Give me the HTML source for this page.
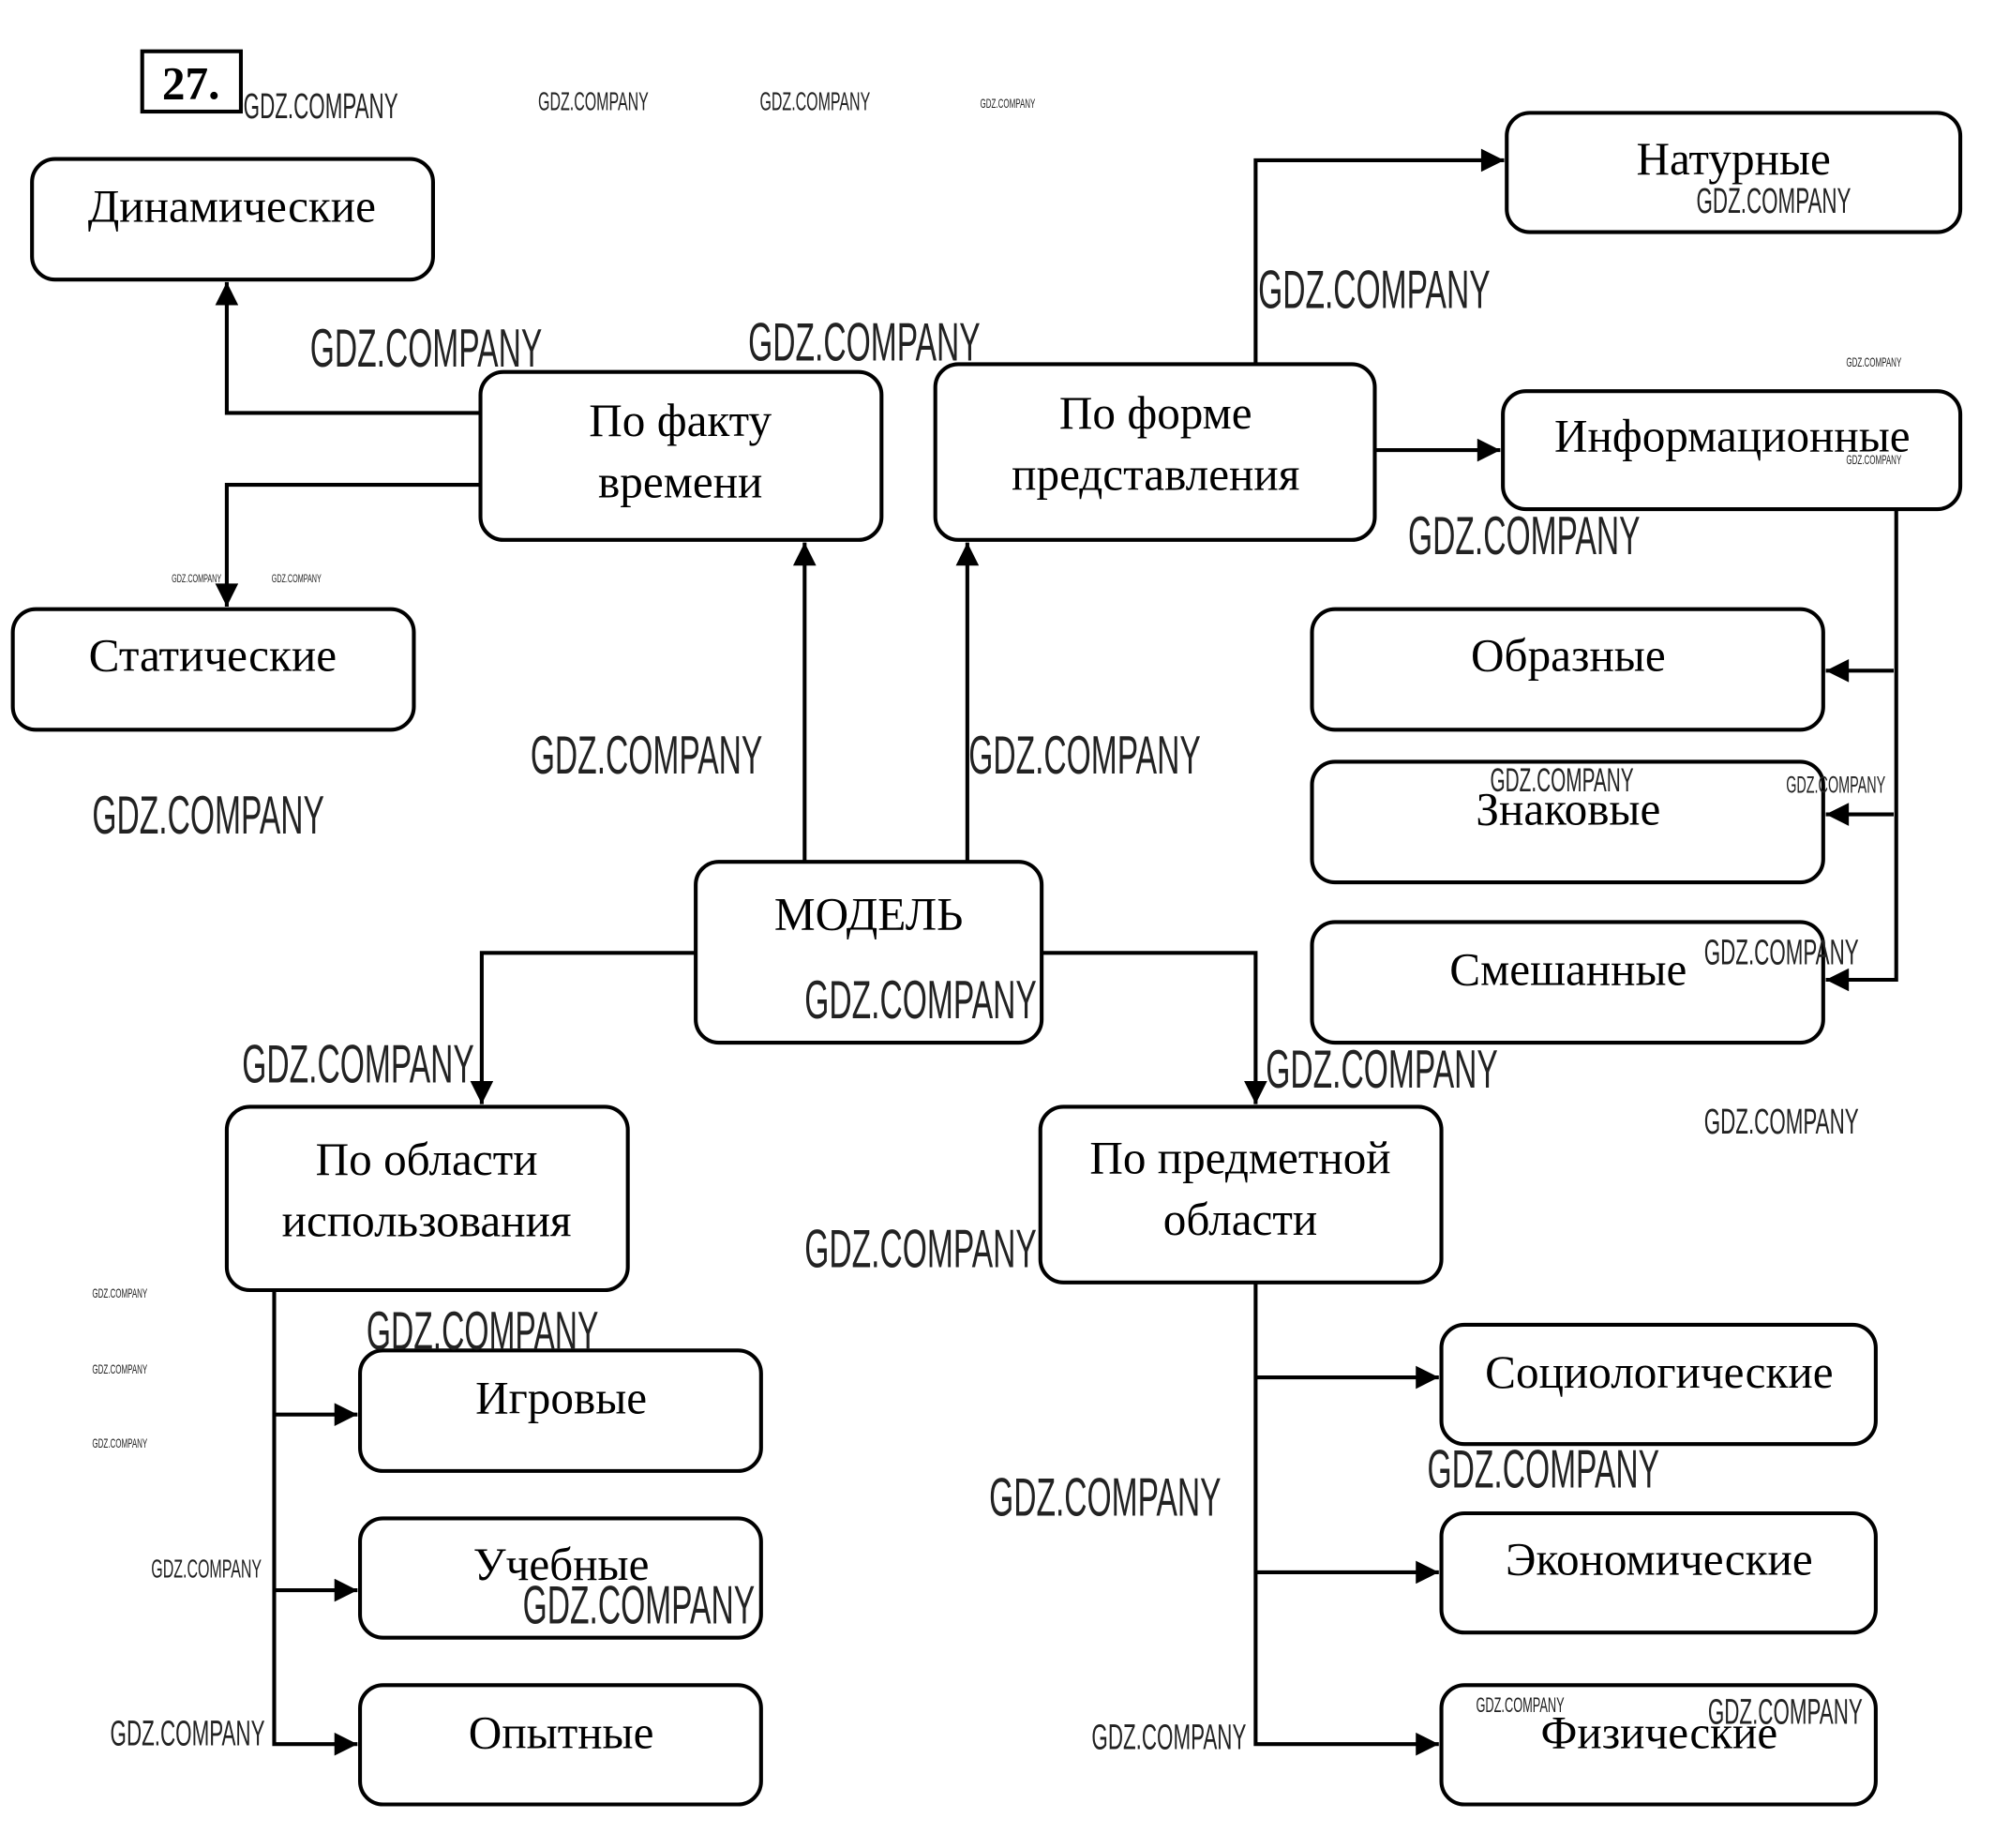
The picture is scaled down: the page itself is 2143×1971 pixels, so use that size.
<!DOCTYPE html>
<html><head><meta charset="utf-8"><style>
html,body{margin:0;padding:0;background:#fff;}
svg{display:block;}
.b{fill:#fff;stroke:#000;stroke-width:3;}
.t{font-family:"Liberation Serif","DejaVu Serif",serif;font-size:36px;fill:#000;text-anchor:middle;}
.l{stroke:#000;stroke-width:3;fill:none;}
.w{font-family:"Liberation Sans","DejaVu Sans",sans-serif;fill:#222;}
</style></head><body>
<svg width="2143" height="1971" viewBox="0 0 1568 1441" preserveAspectRatio="none" xmlns="http://www.w3.org/2000/svg">
<defs>
<marker id="A" viewBox="0 0 10 10" markerWidth="20" markerHeight="18" refX="10" refY="5" orient="auto" markerUnits="userSpaceOnUse"><path d="M0,0 L10,5 L0,10 z" fill="#000"/></marker></defs>

<path class="l" d="M375,322 H177 V220" marker-end="url(#A)"/>
<path class="l" d="M375,378 H177 V473" marker-end="url(#A)"/>
<path class="l" d="M628,672 V423" marker-end="url(#A)"/>
<path class="l" d="M755,672 V423" marker-end="url(#A)"/>
<path class="l" d="M980,284 V125 H1174" marker-end="url(#A)"/>
<path class="l" d="M1073,351 H1171" marker-end="url(#A)"/>
<path class="l" d="M1480,397 V764 H1425" marker-end="url(#A)"/>
<path class="l" d="M1478,523 H1425" marker-end="url(#A)"/>
<path class="l" d="M1478,635 H1425" marker-end="url(#A)"/>
<path class="l" d="M543,743 H376 V861" marker-end="url(#A)"/>
<path class="l" d="M813,743 H980 V861" marker-end="url(#A)"/>
<path class="l" d="M214,1006 V1360 H279" marker-end="url(#A)"/>
<path class="l" d="M214,1103 H279" marker-end="url(#A)"/>
<path class="l" d="M214,1240 H279" marker-end="url(#A)"/>
<path class="l" d="M980,1000 V1360 H1123" marker-end="url(#A)"/>
<path class="l" d="M980,1074 H1123" marker-end="url(#A)"/>
<path class="l" d="M980,1226 H1123" marker-end="url(#A)"/>

<rect x="111" y="40" width="77" height="47" fill="#fff" stroke="#000" stroke-width="3"/>
<text x="149" y="77" style="font-family:'Liberation Serif',serif;font-weight:bold;font-size:36px;text-anchor:middle">27.</text>

<rect class="b" x="25" y="124" width="313" height="94" rx="18"/>
<text class="t" x="181" y="173">Динамические</text>
<rect class="b" x="375" y="290" width="313" height="131" rx="18"/>
<text class="t" x="531" y="340">По факту</text><text class="t" x="531" y="388">времени</text>
<rect class="b" x="10" y="475" width="313" height="94" rx="18"/>
<text class="t" x="166" y="523">Статические</text>
<rect class="b" x="730" y="284" width="343" height="137" rx="18"/>
<text class="t" x="902" y="334">По форме</text><text class="t" x="902" y="382">представления</text>
<rect class="b" x="1176" y="88" width="354" height="93" rx="18"/>
<text class="t" x="1353" y="136">Натурные</text>
<rect class="b" x="1173" y="305" width="357" height="92" rx="18"/>
<text class="t" x="1352" y="352">Информационные</text>
<rect class="b" x="1024" y="475" width="399" height="94" rx="18"/>
<text class="t" x="1224" y="523">Образные</text>
<rect class="b" x="1024" y="594" width="399" height="94" rx="18"/>
<text class="t" x="1224" y="643">Знаковые</text>
<rect class="b" x="1024" y="719" width="399" height="94" rx="18"/>
<text class="t" x="1224" y="768">Смешанные</text>
<rect class="b" x="543" y="672" width="270" height="141" rx="18"/>
<text class="t" x="678" y="725">МОДЕЛЬ</text>
<rect class="b" x="177" y="863" width="313" height="143" rx="18"/>
<text class="t" x="333" y="916">По области</text><text class="t" x="333" y="964">использования</text>
<rect class="b" x="812" y="863" width="313" height="137" rx="18"/>
<text class="t" x="968" y="915">По предметной</text><text class="t" x="968" y="963">области</text>
<rect class="b" x="281" y="1053" width="313" height="94" rx="18"/>
<text class="t" x="438" y="1102">Игровые</text>
<rect class="b" x="281" y="1184" width="313" height="93" rx="18"/>
<text class="t" x="438" y="1232">Учебные</text>
<rect class="b" x="281" y="1314" width="313" height="93" rx="18"/>
<text class="t" x="438" y="1363">Опытные</text>
<rect class="b" x="1125" y="1033" width="339" height="93" rx="18"/>
<text class="t" x="1295" y="1082">Социологические</text>
<rect class="b" x="1125" y="1180" width="339" height="93" rx="18"/>
<text class="t" x="1295" y="1228">Экономические</text>
<rect class="b" x="1125" y="1314" width="339" height="93" rx="18"/>
<text class="t" x="1295" y="1363">Физические</text>

<g class="w">
<text transform="translate(190,92) scale(0.585,1)" font-size="28">GDZ.COMPANY</text>
<text transform="translate(420,86) scale(0.585,1)" font-size="20">GDZ.COMPANY</text>
<text transform="translate(593,86) scale(0.585,1)" font-size="20">GDZ.COMPANY</text>
<text transform="translate(765,84) scale(0.585,1)" font-size="10">GDZ.COMPANY</text>
<text transform="translate(242,286) scale(0.585,1)" font-size="42">GDZ.COMPANY</text>
<text transform="translate(584,281) scale(0.585,1)" font-size="42">GDZ.COMPANY</text>
<text transform="translate(982,240) scale(0.585,1)" font-size="42">GDZ.COMPANY</text>
<text transform="translate(1324,166) scale(0.585,1)" font-size="28">GDZ.COMPANY</text>
<text transform="translate(1099,432) scale(0.585,1)" font-size="42">GDZ.COMPANY</text>
<text transform="translate(72,650) scale(0.585,1)" font-size="42">GDZ.COMPANY</text>
<text transform="translate(414,603) scale(0.585,1)" font-size="42">GDZ.COMPANY</text>
<text transform="translate(756,603) scale(0.585,1)" font-size="42">GDZ.COMPANY</text>
<text transform="translate(1163,617) scale(0.585,1)" font-size="26">GDZ.COMPANY</text>
<text transform="translate(1394,618) scale(0.585,1)" font-size="18">GDZ.COMPANY</text>
<text transform="translate(1330,752) scale(0.585,1)" font-size="28">GDZ.COMPANY</text>
<text transform="translate(628,794) scale(0.585,1)" font-size="42">GDZ.COMPANY</text>
<text transform="translate(189,844) scale(0.585,1)" font-size="42">GDZ.COMPANY</text>
<text transform="translate(988,848) scale(0.585,1)" font-size="42">GDZ.COMPANY</text>
<text transform="translate(1330,884) scale(0.585,1)" font-size="28">GDZ.COMPANY</text>
<text transform="translate(628,988) scale(0.585,1)" font-size="42">GDZ.COMPANY</text>
<text transform="translate(286,1052) scale(0.585,1)" font-size="42">GDZ.COMPANY</text>
<text transform="translate(772,1182) scale(0.585,1)" font-size="42">GDZ.COMPANY</text>
<text transform="translate(1114,1160) scale(0.585,1)" font-size="42">GDZ.COMPANY</text>
<text transform="translate(118,1230) scale(0.585,1)" font-size="20">GDZ.COMPANY</text>
<text transform="translate(408,1266) scale(0.585,1)" font-size="42">GDZ.COMPANY</text>
<text transform="translate(86,1361) scale(0.585,1)" font-size="28">GDZ.COMPANY</text>
<text transform="translate(852,1364) scale(0.585,1)" font-size="28">GDZ.COMPANY</text>
<text transform="translate(1152,1335) scale(0.585,1)" font-size="16">GDZ.COMPANY</text>
<text transform="translate(1333,1344) scale(0.585,1)" font-size="28">GDZ.COMPANY</text>
<text transform="translate(134,454) scale(0.585,1)" font-size="9">GDZ.COMPANY</text>
<text transform="translate(212,454) scale(0.585,1)" font-size="9">GDZ.COMPANY</text>
<text transform="translate(72,1012) scale(0.585,1)" font-size="10">GDZ.COMPANY</text>
<text transform="translate(72,1071) scale(0.585,1)" font-size="10">GDZ.COMPANY</text>
<text transform="translate(72,1129) scale(0.585,1)" font-size="10">GDZ.COMPANY</text>
<text transform="translate(1441,286) scale(0.585,1)" font-size="10">GDZ.COMPANY</text>
<text transform="translate(1441,362) scale(0.585,1)" font-size="10">GDZ.COMPANY</text>
</g>
</svg>
</body></html>
